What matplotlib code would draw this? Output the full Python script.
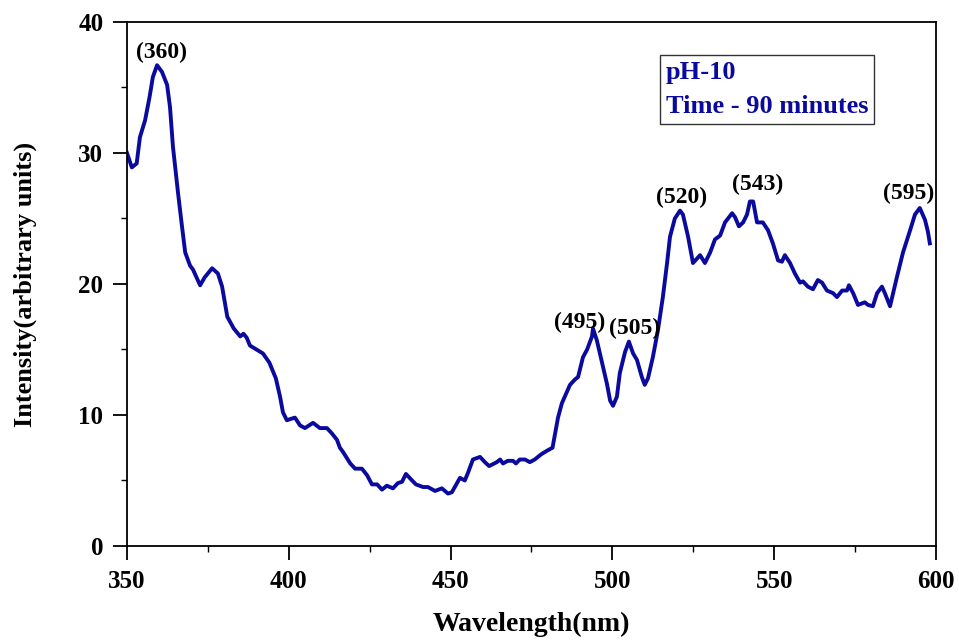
import numpy as np
import matplotlib
matplotlib.use('Agg')
import matplotlib.pyplot as plt

# spectrum
wavelength = [350, 351.5, 353, 354, 355.6, 357, 358, 359.3, 360.8, 362.4, 363.3, 364.2,
              365.8, 367, 368, 369.5, 370.4, 372.6, 374, 376.3, 378.1, 379.4, 381,
              383, 385, 386, 387, 388, 390, 392, 394, 396, 397.3, 398.2, 399.4, 401.9,
              403.5, 405, 407.5, 409.6, 411.8, 413.3, 414.9, 415.8, 416.7, 419, 420.5,
              422.6, 424.2, 425.7, 427.3, 428.8, 430.3, 432.2, 433.7, 435, 436.2, 438.1,
              439.3, 441.5, 443, 445.2, 447.3, 449.2, 450.4, 452, 452.9, 454.4, 455.4,
              456.9, 459.1, 460.6, 461.9, 464.3, 465.3, 466.2, 467.7, 469.3, 470.2,
              471.4, 473, 474.5, 476, 478, 480, 481.5, 483.2, 484.4, 486, 486.9, 488.4,
              489.4, 490.9, 492.2, 493.7, 494, 495.2, 496.8, 498.3, 499.3, 500.2, 501.4,
              502.3, 503.9, 505.1, 506.4, 507.6, 509.1, 510, 511, 512.5, 514.1, 515.6,
              516.9, 517.8, 519.3, 520.9, 521.8, 523.4, 524.9, 527.1, 528.6, 530.2,
              531.7, 533.3, 534.8, 537, 537.9, 539.1, 540.4, 541.6, 542.5, 543.5, 544.7,
              546.5, 548.1, 549.6, 551.2, 552.4, 553.3, 554.9, 556.4, 558, 558.9, 560.4,
              562, 563.5, 564.8, 566.3, 568.2, 569.4, 571, 572.5, 573.1, 574.4, 575.9,
              578, 579, 580.5, 581.8, 583.3, 584.2, 585.8, 587.9, 589.8, 592, 593.5,
              595, 596.6, 597.5, 598.1]
intensity = [30.0, 28.9, 29.2, 31.2, 32.5, 34.3, 35.8, 36.7, 36.2, 35.2, 33.5, 30.5,
             26.9, 24.4, 22.4, 21.4, 21.1, 19.9, 20.5, 21.2, 20.8, 19.8, 17.5,
             16.6, 16.0, 16.2, 15.9, 15.3, 15.0, 14.7, 14.0, 12.8, 11.4, 10.2, 9.6, 9.8,
             9.2, 9.0, 9.4, 9.0, 9.0, 8.6, 8.1, 7.5, 7.2, 6.3, 5.9,
             5.9, 5.4, 4.7, 4.7, 4.3, 4.6, 4.4, 4.8, 4.9, 5.5, 5.0,
             4.7, 4.5, 4.5, 4.2, 4.4, 4.0, 4.1, 4.8, 5.2, 5.0, 5.6,
             6.6, 6.8, 6.4, 6.1, 6.4, 6.6, 6.3, 6.5, 6.5, 6.3,
             6.6, 6.6, 6.4, 6.6, 7.0, 7.3, 7.5, 9.8, 10.9, 11.8, 12.3, 12.7,
             12.9, 14.4, 15.0, 16.0, 16.6, 15.7, 14.0, 12.4, 11.1, 10.7, 11.4,
             13.2, 14.8, 15.6, 14.7, 14.2, 12.9, 12.3, 12.8, 14.4, 16.5, 19.0,
             21.6, 23.6, 25.0, 25.6, 25.3, 23.6, 21.6, 22.2, 21.6, 22.4,
             23.4, 23.7, 24.7, 25.4, 25.1, 24.4, 24.7, 25.3, 26.3, 26.3, 24.7,
             24.7, 24.1, 23.1, 21.8, 21.7, 22.2, 21.6, 20.8, 20.1, 20.2, 19.8,
             19.6, 20.3, 20.1, 19.5, 19.3, 19.0, 19.5, 19.5, 19.9, 19.3, 18.4,
             18.6, 18.4, 18.3, 19.3, 19.8, 19.3, 18.3, 20.5, 22.4, 24.1, 25.3,
             25.8, 24.9, 24.0, 23.1]

peak_labels = ['(360)', '(495)', '(505)', '(520)', '(543)', '(595)']
peak_x = [360.8, 490.0, 507.0, 521.5, 545.0, 591.7]
peak_y = [37.7, 17.1, 16.6, 26.6, 27.6, 26.9]

serif = ['Liberation Serif', 'DejaVu Serif']
line_col = '#0a0a9e'

fig = plt.figure(figsize=(9.59, 6.43), dpi=100)
ax = fig.add_axes([0.1324, 0.1509, 0.8436, 0.8149])

ax.plot(wavelength, intensity, color=line_col, lw=2.8, solid_joinstyle='round')

ax.set_xlim(350, 600)
ax.set_ylim(0, 40)
ax.set_xticks(np.arange(350, 601, 50))
ax.set_xticks(np.arange(375, 600, 50), minor=True)
ax.set_yticks(np.arange(0, 41, 10))
ax.set_yticks(np.arange(5, 40, 10), minor=True)
ax.tick_params(which='major', direction='out', length=10, width=1.3, pad=7)
ax.tick_params(which='minor', direction='out', length=4, width=1.0)
for lab in ax.get_xticklabels() + ax.get_yticklabels():
    lab.set_family(serif)
    lab.set_fontweight('bold')
    lab.set_fontsize(18)
for s in ax.spines.values():
    s.set_linewidth(1.3)

ax.set_xlabel('Wavelength(nm)', family=serif, fontweight='bold', fontsize=20, labelpad=14)
ax.set_ylabel('Intensity(arbitrary units)', family=serif, fontweight='bold', fontsize=19, labelpad=30)

for t, x, y in zip(peak_labels, peak_x, peak_y):
    ax.text(x, y, t, family=serif, fontweight='bold', fontsize=17, ha='center', va='center')

ax.text(0.666, 0.925, 'pH-10\nTime - 90 minutes', transform=ax.transAxes,
        family=serif, fontweight='bold', fontsize=19, color=line_col,
        va='top', ha='left', linespacing=1.6,
        bbox=dict(boxstyle='square,pad=0.22', fc='white', ec='#333333', lw=1.0))

fig.savefig('out.png', dpi=100)
